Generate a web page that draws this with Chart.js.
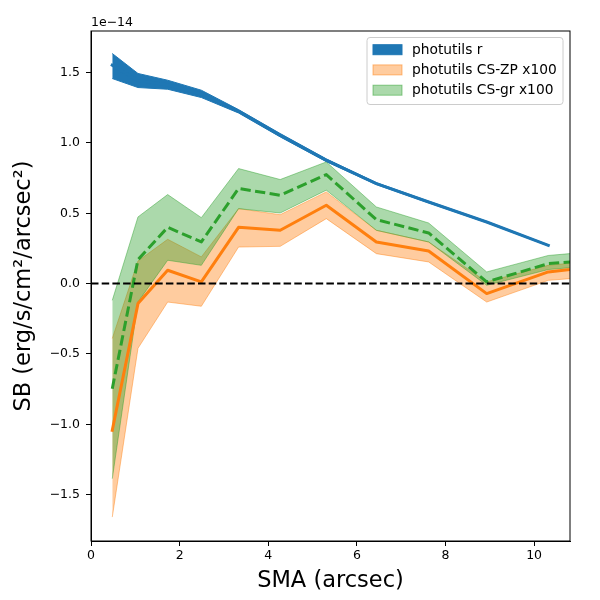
<!DOCTYPE html>
<html>
<head>
<meta charset="utf-8">
<script src="https://cdn.jsdelivr.net/npm/chart.js@4.4.8/dist/chart.umd.min.js"></script>
<style>
  html, body { margin: 0; padding: 0; background: #fff; }
  #wrap { width: 600px; height: 600px; }
</style>
</head>
<body>
<div id="wrap"><canvas id="c" width="600" height="600"></canvas></div>
<script>
/*  Data (SB in units of 1e-14)  */

const sma = [0.48, 1.06, 1.73, 2.49, 3.33, 4.27, 5.31, 6.44, 7.62, 8.93, 10.32, 11.8];

const rMid   = [1.553, 1.445, 1.414, 1.350, 1.225, 1.055, 0.877, 0.711, 0.580, 0.438, 0.272, null];
const rUpper = [1.636, 1.494, 1.446, 1.375, 1.237, 1.067, 0.887, 0.718, 0.586, 0.443, 0.276, null];
const rLower = [1.458, 1.394, 1.382, 1.323, 1.213, 1.043, 0.867, 0.704, 0.574, 0.433, 0.268, null];

const zpMid   = [-1.043, -0.142, 0.095, 0.012, 0.400, 0.379, 0.557, 0.296, 0.232, -0.071, 0.083, 0.135];
const zpUpper = [-0.390, 0.161, 0.315, 0.190, 0.533, 0.490, 0.652, 0.379, 0.296, 0.012, 0.130, 0.175];
const zpLower = [-1.660, -0.460, -0.131, -0.161, 0.260, 0.265, 0.462, 0.213, 0.154, -0.131, 0.023, 0.060];

const grMid   = [-0.747, 0.170, 0.400, 0.296, 0.676, 0.628, 0.775, 0.455, 0.360, 0.012, 0.142, 0.178];
const grUpper = [-0.119, 0.474, 0.633, 0.469, 0.818, 0.740, 0.865, 0.545, 0.431, 0.083, 0.200, 0.240];
const grLower = [-1.387, -0.130, 0.166, 0.130, 0.533, 0.502, 0.664, 0.379, 0.296, -0.012, 0.100, 0.140];

const seriesLabels = ['photutils r', 'photutils CS-ZP x100', 'photutils CS-gr x100'];
const xTicks = [0, 2, 4, 6, 8, 10];
const yTicks = [-1.5, -1.0, -0.5, 0.0, 0.5, 1.0, 1.5];


/*  Styles  */

const BLUE = '#1f77b4';
const ORANGE = '#ff7f0e';
const GREEN = '#2ca02c';
const ORANGE_FILL = 'rgba(255,127,14,0.4)';
const GREEN_FILL = 'rgba(44,160,44,0.4)';
const FONT = 'DejaVu Sans';

function pts(ys) {
    return ys.map((y, i) => ({x: sma[i], y: y})).filter(p => p.y !== null);
}

function lineSet(label, ys, color, order, dash) {
    return {
        label: label, data: pts(ys), borderColor: color, borderWidth: 3,
        borderDash: dash || [], borderJoinStyle: 'round', borderCapStyle: dash ? 'butt' : 'square',
        pointRadius: 0, fill: false, order: order, clip: 0, tension: 0
    };
}

function bandSet(ys, color, edge, order, target) {
    return {
        data: pts(ys), borderColor: edge, borderWidth: 1, backgroundColor: color,
        pointRadius: 0, fill: target === undefined ? false : target, order: order, clip: 0, tension: 0
    };
}


/*  Plugins  */

const extras = {
    id: 'extras',
    afterDatasetsDraw(chart) {
        const {ctx, chartArea: a, scales} = chart;
        // zero line
        const y0 = scales.y.getPixelForValue(0);
        ctx.save();
        ctx.strokeStyle = '#000';
        ctx.lineWidth = 2;
        ctx.setLineDash([7.5, 3.2]);
        ctx.beginPath();
        ctx.moveTo(a.left, y0);
        ctx.lineTo(a.right, y0);
        ctx.stroke();
        ctx.restore();
    },
    afterDraw(chart) {
        const {ctx, chartArea: a} = chart;
        ctx.save();
        // frame
        ctx.strokeStyle = '#000';
        ctx.lineWidth = 1;
        ctx.strokeRect(a.left, a.top, a.right - a.left, a.bottom - a.top);

        // offset text
        ctx.fillStyle = '#000';
        ctx.font = '12.5px "' + FONT + '"';
        ctx.textBaseline = 'alphabetic';
        ctx.textAlign = 'left';
        ctx.fillText('1e\u221214', a.left, 26);

        // legend
        const bx = 367, by = 37.5, bw = 196, bh = 67;
        ctx.beginPath();
        ctx.roundRect(bx, by, bw, bh, 3);
        ctx.fillStyle = 'rgba(255,255,255,0.8)';
        ctx.fill();
        ctx.strokeStyle = '#cccccc';
        ctx.lineWidth = 1;
        ctx.stroke();
        const fills = [BLUE, ORANGE_FILL, GREEN_FILL];
        const edges = [BLUE, 'rgba(255,127,14,0.5)', 'rgba(44,160,44,0.5)'];
        const rows = [49.7, 69.9, 90.2];
        ctx.font = '13.8px "' + FONT + '"';
        ctx.textBaseline = 'middle';
        for (let i = 0; i < seriesLabels.length; i++) {
            ctx.fillStyle = fills[i];
            ctx.fillRect(373, rows[i] - 5, 29, 10);
            ctx.strokeStyle = edges[i];
            ctx.strokeRect(373, rows[i] - 5, 29, 10);
            ctx.fillStyle = '#000';
            ctx.fillText(seriesLabels[i], 412, rows[i] + 0.5);
        }
        ctx.restore();
    }
};


/*  Chart  */

const fmtY = v => (v < 0 ? '\u2212' : '') + Math.abs(v).toFixed(1);

new Chart(document.getElementById('c'), {
    type: 'line',
    data: {
        datasets: [
            lineSet(seriesLabels[0], rMid, BLUE, 2),                       // 0
            lineSet(seriesLabels[1], zpMid, ORANGE, 1),                    // 1
            lineSet(seriesLabels[2], grMid, GREEN, 0, [10.3, 4.4]),        // 2
            bandSet(rUpper, BLUE, BLUE, 5, 4),                             // 3
            bandSet(rLower, BLUE, BLUE, 5),                                // 4
            bandSet(zpUpper, ORANGE_FILL, 'rgba(255,127,14,0.45)', 4, 6),  // 5
            bandSet(zpLower, ORANGE_FILL, 'rgba(255,127,14,0.45)', 4),     // 6
            bandSet(grUpper, GREEN_FILL, 'rgba(44,160,44,0.45)', 3, 8),    // 7
            bandSet(grLower, GREEN_FILL, 'rgba(44,160,44,0.45)', 3)        // 8
        ]
    },
    options: {
        responsive: false,
        animation: false,
        devicePixelRatio: 1,
        layout: {padding: {top: 31, right: 30, left: 0, bottom: 0}},
        plugins: {legend: {display: false}, tooltip: {enabled: false}},
        scales: {
            x: {
                type: 'linear', min: 0, max: 10.81,
                afterBuildTicks: s => { s.ticks = xTicks.map(v => ({value: v})); },
                afterFit: s => { s.height = 59; },
                grid: {drawOnChartArea: false, tickLength: 5, color: '#000', lineWidth: 1},
                border: {color: '#000', width: 1},
                ticks: {color: '#000', font: {family: FONT, size: 12.5}, padding: 2, maxRotation: 0,
                        callback: v => String(v)},
                title: {display: true, text: 'SMA (arcsec)', color: '#000',
                        font: {family: FONT, size: 22.5}, padding: {top: 0, bottom: 5}}
            },
            y: {
                type: 'linear', min: -1.83, max: 1.796,
                afterBuildTicks: s => { s.ticks = yTicks.map(v => ({value: v})); },
                afterFit: s => { s.width = 91; },
                grid: {drawOnChartArea: false, tickLength: 5, color: '#000', lineWidth: 1},
                border: {color: '#000', width: 1},
                ticks: {color: '#000', font: {family: FONT, size: 12.5}, padding: 6, callback: fmtY},
                title: {display: true, text: 'SB (erg/s/cm\u00b2/arcsec\u00b2)', color: '#000',
                        font: {family: FONT, size: 22.5}, padding: {top: 11, bottom: 0}}
            }
        }
    },
    plugins: [extras]
});
</script>
</body>
</html>
